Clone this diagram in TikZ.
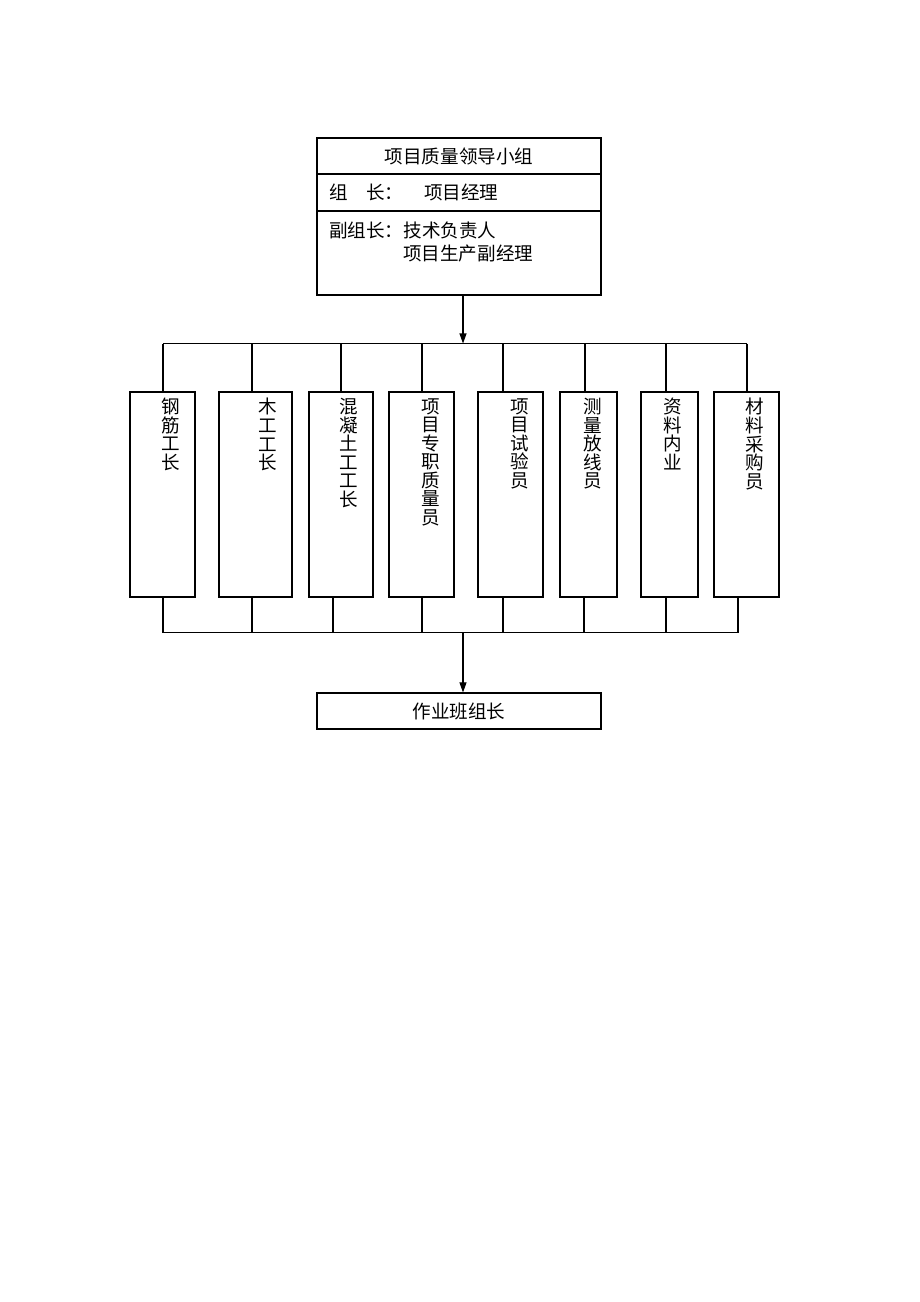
\documentclass[tikz,border=0pt]{standalone}
\usepackage{fontspec}
\newfontfamily\cjk{Noto Sans CJK SC}
\usepackage{tikz}
\usetikzlibrary{positioning,arrows.meta}
\newlength\px
\setlength\px{0.6467pt}

\begin{document}
\begin{tikzpicture}[x=0.6467pt,y=-0.6467pt,
	box/.style={draw,line width=0.7pt,inner sep=0pt},
	lbl/.style={font=\cjk\fontsize{12}{12}\selectfont,inner sep=0pt},
	vlbl/.style={lbl,align=center,anchor=north},
	link/.style={line width=0.7pt},
	arr/.style={link,-{Triangle[length=6.5pt,width=4.5pt]}}]
				\fill[white] (0,0) rectangle (920,1302);
				\useasboundingbox (0,0) rectangle (920,1302);
				% leading group
				\node[box,lbl,minimum width=284\px,minimum height=36\px] (head) at (459,156) {项目质量领导小组};
				\node[box,lbl,minimum width=284\px,minimum height=37\px,text width=260\px,inner xsep=12\px,align=left] (lead) at (459,192.5) {组\quad 长：\hspace{13.5pt}项目经理};
				\node[box,minimum width=284\px,minimum height=84\px] (deputy) at (459,253) {};
				\node[lbl,anchor=west] (dep1) at (329,230) {副组长：技术负责人};
				\node[lbl,anchor=west] (dep2) at (403,253) {项目生产副经理};
				% posts
				\node[box,minimum width=65\px,minimum height=205\px] (gj) at (162.5,494.5) {};
				\node[box,minimum width=73\px,minimum height=205\px] (mg) at (255.5,494.5) {};
				\node[box,minimum width=64\px,minimum height=205\px] (hnt) at (341,494.5) {};
				\node[box,minimum width=65\px,minimum height=205\px] (zj) at (421.5,494.5) {};
				\node[box,minimum width=65\px,minimum height=205\px] (sy) at (510.5,494.5) {};
				\node[box,minimum width=57\px,minimum height=205\px] (cl) at (588.5,494.5) {};
				\node[box,minimum width=57\px,minimum height=205\px] (zl) at (669.5,494.5) {};
				\node[box,minimum width=65\px,minimum height=205\px] (cg) at (746.5,494.5) {};
				\node[vlbl] (gjtxt) at (171,398) {钢\\筋\\工\\长};
				\node[vlbl] (mgtxt) at (268,398) {木\\工\\工\\长};
				\node[vlbl] (hnttxt) at (349,398) {混\\凝\\土\\工\\工\\长};
				\node[vlbl] (zjtxt) at (431,398) {项\\目\\专\\职\\质\\量\\员};
				\node[vlbl] (sytxt) at (520,398) {项\\目\\试\\验\\员};
				\node[vlbl] (cltxt) at (593,398) {测\\量\\放\\线\\员};
				\node[vlbl] (zltxt) at (673,398) {资\\料\\内\\业};
				\node[vlbl] (cgtxt) at (755,398) {材\\料\\采\\购\\员};
				% crew leader
				\node[box,lbl,minimum width=284\px,minimum height=36\px] (crew) at (459,711) {作业班组长};
				% upper bus
				\coordinate [] (split) at (463,343.5);
				\coordinate [] (gjup) at (163,343.5);
				\coordinate [] (mgup) at (252,343.5);
				\coordinate [] (hntup) at (341,343.5);
				\coordinate [] (zjup) at (422,343.5);
				\coordinate [] (syup) at (503,343.5);
				\coordinate [] (clup) at (585,343.5);
				\coordinate [] (zlup) at (666,343.5);
				\coordinate [] (cgup) at (747,343.5);
				\draw[arr] (deputy.south -| split) -- (split);
				\draw[link] (gjup) -- (cgup);
				\draw[link] (gjup) -- (gjup |- gj.north);
				\draw[link] (mgup) -- (mgup |- mg.north);
				\draw[link] (hntup) -- (hntup |- hnt.north);
				\draw[link] (zjup) -- (zjup |- zj.north);
				\draw[link] (syup) -- (syup |- sy.north);
				\draw[link] (clup) -- (clup |- cl.north);
				\draw[link] (zlup) -- (zlup |- zl.north);
				\draw[link] (cgup) -- (cgup |- cg.north);
				% lower bus
				\coordinate [] (join) at (463,632.5);
				\coordinate [] (gjdn) at (163,632.5);
				\coordinate [] (mgdn) at (252,632.5);
				\coordinate [] (hntdn) at (333,632.5);
				\coordinate [] (zjdn) at (422,632.5);
				\coordinate [] (sydn) at (503,632.5);
				\coordinate [] (cldn) at (584,632.5);
				\coordinate [] (zldn) at (666,632.5);
				\coordinate [] (cgdn) at (738,632.5);
				\draw[link] (gjdn) -- (cgdn);
				\draw[link] (gjdn) -- (gjdn |- gj.south);
				\draw[link] (mgdn) -- (mgdn |- mg.south);
				\draw[link] (hntdn) -- (hntdn |- hnt.south);
				\draw[link] (zjdn) -- (zjdn |- zj.south);
				\draw[link] (sydn) -- (sydn |- sy.south);
				\draw[link] (cldn) -- (cldn |- cl.south);
				\draw[link] (zldn) -- (zldn |- zl.south);
				\draw[link] (cgdn) -- (cgdn |- cg.south);
				\draw[arr] (join) -- (join |- crew.north);
			\end{tikzpicture}
\end{document}
